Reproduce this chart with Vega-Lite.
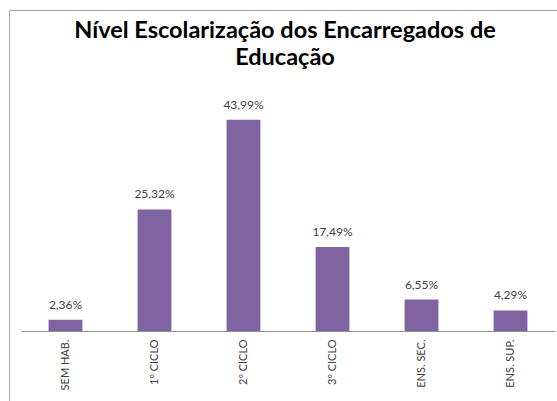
{
  "$schema": "https://vega.github.io/schema/vega-lite/v6.json",
  "width": 560,
  "height": 395,
  "autosize": {"type": "none"},
  "padding": {"left": 9, "top": 10, "right": 0, "bottom": 0},
  "background": "white",
  "config": {
    "view": {"stroke": "#a6a6a6", "strokeWidth": 1},
    "font": "Lato"
  },
  "title": {
    "text": ["Nível Escolarização dos Encarregados de", "Educação"],
    "anchor": "middle",
    "frame": "group",
    "baseline": "alphabetic",
    "offset": -78,
    "dx": -4,
    "fontSize": 23.5,
    "fontWeight": "bold",
    "font": "Lato",
    "color": "#000000",
    "lineHeight": 27
  },
  "data": {
    "values": [
      {"nivel": "SEM HAB.", "pct": 2.36, "rotulo": "2,36%"},
      {"nivel": "1º CICLO", "pct": 25.32, "rotulo": "25,32%"},
      {"nivel": "2º CICLO", "pct": 43.99, "rotulo": "43,99%"},
      {"nivel": "3º CICLO", "pct": 17.49, "rotulo": "17,49%"},
      {"nivel": "ENS. SEC.", "pct": 6.55, "rotulo": "6,55%"},
      {"nivel": "ENS. SUP.", "pct": 4.29, "rotulo": "4,29%"}
    ]
  },
  "encoding": {
    "x": {
      "field": "nivel",
      "type": "nominal",
      "sort": null,
      "scale": {"range": [12, 546], "paddingInner": 0.62, "paddingOuter": 0.31},
      "axis": {
        "title": null,
        "offset": -74,
        "labelAngle": -90,
        "ticks": false,
        "labelPadding": 8,
        "labelFontSize": 11,
        "labelColor": "#404040",
        "labelFont": "Lato",
        "domainColor": "#8c8c8c",
        "domainWidth": 1
      }
    }
  },
  "layer": [
    {
      "mark": {"type": "bar", "color": "#8064a2"},
      "encoding": {
        "y": {
          "field": "pct",
          "type": "quantitative",
          "scale": {"domain": [-15.417, 66.875], "nice": false, "zero": false},
          "axis": null
        },
        "y2": {"datum": 0}
      }
    },
    {
      "mark": {"type": "text", "baseline": "bottom", "dy": -8, "fontSize": 12, "color": "#404040", "font": "Lato"},
      "encoding": {
        "y": {"field": "pct", "type": "quantitative"},
        "text": {"field": "rotulo"}
      }
    }
  ]
}
